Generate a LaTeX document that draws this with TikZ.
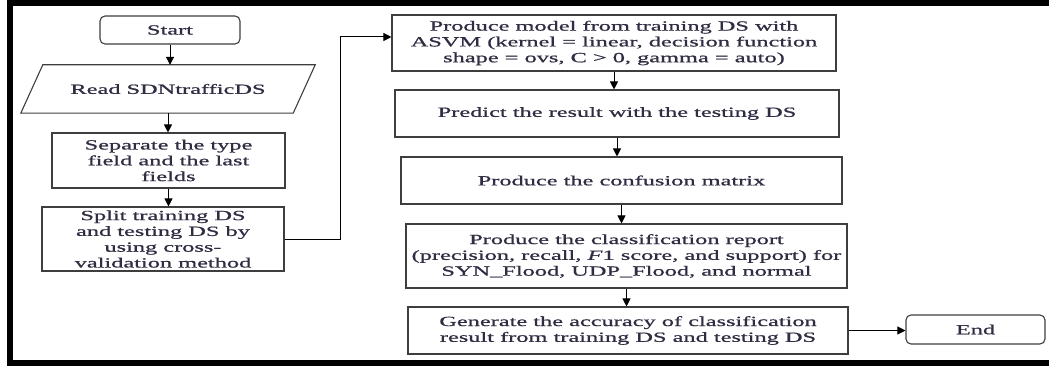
\documentclass[tikz,border=0pt]{standalone}
\usepackage{fontspec}
\setmainfont{Liberation Serif}[FakeStretch=1.74, FakeBold=0.9]
\usetikzlibrary{arrows.meta,calc}
\definecolor{ink}{RGB}{48,44,66}
\definecolor{edge}{RGB}{62,62,62}
\begin{document}
\begin{tikzpicture}[x=1pt,y=1pt,
  lbl/.style={text=ink, align=center, inner sep=0pt, font=\fontsize{14}{15.8}\selectfont},
  box/.style={lbl, draw=edge, line width=1.1pt},
  term/.style={box, rounded corners=5pt},
  arr/.style={draw=black, line width=1pt, -{Triangle[length=8pt,width=8pt]}}
]
\clip (0,0) rectangle (1049,-366);
\useasboundingbox (0,0) rectangle (1049,-366);
% outer frame
\draw[line width=6pt] (9.5,-3) rectangle (1070,-363);

% left column
\node[term, minimum width=140pt, minimum height=28pt] (start) at (170,-30) {Start};
\node[lbl, minimum width=272pt, minimum height=48pt] (read) at (168,-89) {Read SDNtrafficDS};
\draw[draw=edge, line width=1.1pt]
  ($(read.north west)+(11,0)$) -- ($(read.north east)+(11,0)$) --
  ($(read.south east)-(11,0)$) -- ($(read.south west)-(11,0)$) -- cycle;
\node[box, minimum width=233pt, minimum height=55pt] (sep) at (168.5,-160.5)
  {Separate the type\\field and the last\\fields};
\node[box, minimum width=242pt, minimum height=64pt] (split) at (163,-239)
  {Split training DS\\and testing DS by\\using cross-\\validation method};

% right column
\node[box, minimum width=444pt, minimum height=56pt] (asvm) at (614,-43)
  {Produce model from training DS with\\ASVM (kernel = linear, decision function\\shape = ovs, C > 0, gamma = auto)};
\node[box, minimum width=444pt, minimum height=47pt] (pred) at (617,-113.5)
  {Predict the result with the testing DS};
\node[box, minimum width=441pt, minimum height=47pt] (conf) at (621.5,-180.5)
  {Produce the confusion matrix};
\node[box, minimum width=441pt, minimum height=64pt] (cls) at (626.5,-256)
  {Produce the classification report\\(precision, recall, \textit{F}1 score, and support) for\\SYN\_Flood, UDP\_Flood, and normal};
\node[box, minimum width=440pt, minimum height=47pt] (acc) at (628,-330.5)
  {Generate the accuracy of classification\\result from training DS and testing DS};
\node[term, minimum width=139pt, minimum height=29pt] (end) at (975.5,-329.5) {End};

% connectors
\draw[arr] (start.south) -- (start.south |- read.north);
\draw[arr] (read.south) -- (read.south |- sep.north);
\draw[arr] (sep.south) -- (sep.south |- split.north);
\draw[arr] (split.east) -- ++(56,0) |- ([yshift=6pt]asvm.west);
\draw[arr] (asvm.south) -- (asvm.south |- pred.north);
\draw[arr] (pred.south) -- (pred.south |- conf.north);
\draw[arr] (conf.south) -- (conf.south |- cls.north);
\draw[arr] (cls.south) -- (cls.south |- acc.north);
\draw[arr] (acc.east) -- (acc.east -| end.west);
\end{tikzpicture}
\end{document}
